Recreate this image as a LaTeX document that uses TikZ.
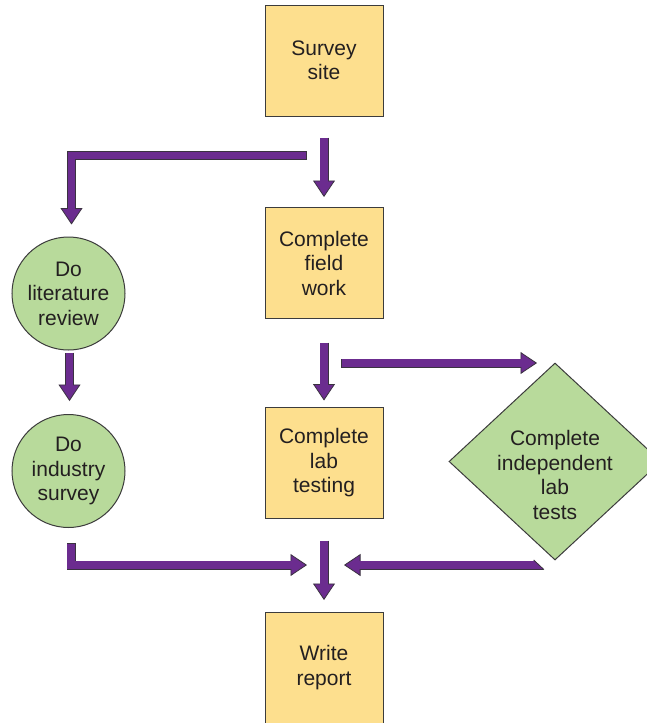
\documentclass[tikz,border=0pt]{standalone}
\usepackage{fontspec}
\newfontfamily\diafont{Liberation Sans}
\usetikzlibrary{arrows.meta,shapes.geometric,calc}
\definecolor{boxyellow}{HTML}{FDDF8E}
\definecolor{leafgreen}{HTML}{B8DA9B}
\definecolor{arrowfill}{HTML}{6B2C8F}
\definecolor{arrowedge}{HTML}{3A3240}
\definecolor{edgegray}{HTML}{3C3C3C}
\definecolor{inkgray}{HTML}{231F20}
\tikzset{
  txt/.style={font=\diafont\fontsize{21}{24.5}\selectfont, text=inkgray, align=center},
  taskbox/.style={txt, rectangle, draw=edgegray, line width=1pt, fill=boxyellow,
    minimum width=118pt, minimum height=111pt, inner sep=0pt},
  roundtask/.style={txt, circle, draw=edgegray, line width=1pt, fill=leafgreen,
    minimum size=113pt, inner sep=0pt},
  choice/.style={diamond, draw=edgegray, line width=1pt, fill=leafgreen,
    minimum width=212pt, minimum height=197pt, inner sep=0pt},
  fatouter/.style={draw=arrowedge, line width=9pt, line join=miter,
    -{Triangle[length=16.5pt,width=22pt,fill=arrowfill,line width=0.8pt]}},
  fatinner/.style={draw=arrowfill, line width=7.4pt, line join=miter,
    shorten >=14pt, shorten <=0.8pt},
  cutedge/.style={draw=arrowedge, line width=0.8pt}
}
\newcommand\fatarrow[1]{%
  \draw[fatouter] #1;
  \draw[fatinner] #1;
}
\begin{document}
\begin{tikzpicture}[x=1pt,y=1pt]
\useasboundingbox (0,0) rectangle (647,-723);
\clip (0,0) rectangle (647,-723);

% nodes
\node[taskbox] (survey) at (324,-60.5) {Survey\\site};
\node[taskbox] (field)  at (324,-263)  {Complete\\field\\work};
\node[taskbox] (lab)    at (324,-463)  {Complete\\lab\\testing};
\node[taskbox] (report) at (324,-667.5){Write\\report};
\node[roundtask] (lit) at (68.5,-293.5) {Do\\literature\\review};
\node[roundtask] (ind) at (68.5,-471)   {Do\\industry\\survey};
\node[choice, label={[txt, yshift=-13.5pt]center:Complete\\independent\\lab\\tests}]
  (indep) at (555,-461.5) {};

% arrow coordinates
\coordinate (a1s) at ($(survey.south)+(0,-21)$);
\coordinate (a1e) at ($(field.north)+(0,10)$);

\coordinate (a2s) at ($(survey.south)+(-17,-39)$);
\coordinate (a2e) at ($(lit.north)+(3,12)$);
\coordinate (a2c) at (a2e |- a2s);

\coordinate (a3s) at ($(lit.south)+(1,-2)$);
\coordinate (a3e) at ($(ind.north)+(1,13)$);

\coordinate (a4s) at ($(field.south)+(0,-23.5)$);
\coordinate (a4e) at ($(lab.north)+(0,6.5)$);

\coordinate (a5s) at ($(field.south)+(17,-44)$);
\coordinate (a5e) at (a5s -| {$(indep.north)+(-18,0)$});

\coordinate (a6s) at ($(ind.south)+(2.5,-15)$);
\coordinate (a6c) at ($(a6s)+(0,-22)$);
\coordinate (a6e) at ($(a6c -| report.north)+(-17,0)$);

\coordinate (a7s) at ($(lab.south)+(0,-21.5)$);
\coordinate (a7e) at ($(report.north)+(0,11.5)$);

\coordinate (a8s) at ($(a6c -| indep.south)+(5,0)$);
\coordinate (a8e) at ($(a6c -| report.north)+(20,0)$);
\coordinate (cut1) at (533.7,-560);
\coordinate (cut2) at (543.3,-569);

% arrows
\fatarrow{(a1s) -- (a1e)}
\fatarrow{(a2s) -- (a2c) -- (a2e)}
\fatarrow{(a3s) -- (a3e)}
\fatarrow{(a4s) -- (a4e)}
\fatarrow{(a5s) -- (a5e)}
\fatarrow{(a6s) -- (a6c) -- (a6e)}
\fatarrow{(a7s) -- (a7e)}
\begin{scope}
  \clip (300,-540) -- (512.1,-540) -- (565.9,-590) -- (300,-590) -- cycle;
  \fatarrow{(a8s) -- (a8e)}
\end{scope}
\draw[cutedge] (cut1) -- (cut2);
\end{tikzpicture}
\end{document}
